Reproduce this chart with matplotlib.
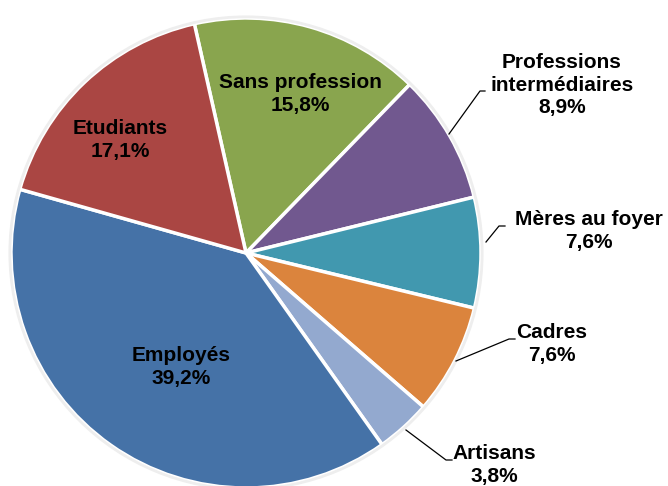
import matplotlib
matplotlib.use("Agg")
import matplotlib.pyplot as plt

categories = ["Sans profession", "Professions\nintermédiaires", "Mères au foyer",
              "Cadres", "Artisans", "Employés", "Etudiants"]
values = [15.8, 8.9, 7.6, 7.6, 3.8, 39.2, 17.1]
colors = ["#89A54E", "#71588F", "#4198AF", "#DB843D", "#93A9CF", "#4572A7", "#AA4643"]

# layout (pixel coordinates of the reference image)
W, H = 668, 486
CX, CY, R = 246, 253, 235
label_px = [(300, 94), (562, 85), (589, 231), (552, 344), (494, 465), (181, 367), (120, 140)]
leader_px = [None,
             [(449, 134), (480, 91), (485, 91)],
             [(486, 242), (499, 226), (505, 226)],
             [(456, 361), (509, 339), (515, 339)],
             [(406, 430), (446, 460), (452, 460)],
             None, None]


def px(x, y):
    return ((x - CX) / R, (CY - y) / R)


fig = plt.figure(figsize=(W / 100, H / 100), dpi=100)
ax = fig.add_axes([0, 0, 1, 1])

ax.pie(values, colors=colors, startangle=102.7, counterclock=False, radius=1.0,
       wedgeprops=dict(edgecolor="white", linewidth=2.5))
# faint outer rim
circle = plt.Circle((0, 0), 1.005, fill=False, edgecolor="#EEEEEE", linewidth=2)
ax.add_patch(circle)

for cat, v, lp, ld in zip(categories, values, label_px, leader_px):
    txt = f"{cat}\n{v:.1f}%".replace(".", ",")
    x, y = px(*lp)
    ax.text(x, y, txt, ha="center", va="center", fontsize=15, fontweight="bold",
            family="Liberation Sans", linespacing=1.22, color="black")
    if ld:
        xs, ys = zip(*[px(*p) for p in ld])
        ax.plot(xs, ys, color="black", linewidth=0.9)

ax.set_xlim(px(0, 0)[0], px(W, 0)[0])
ax.set_ylim(px(0, H)[1], px(0, 0)[1])
ax.set_aspect("equal", adjustable="datalim")
ax.axis("off")

fig.savefig("out.png", dpi=100)
